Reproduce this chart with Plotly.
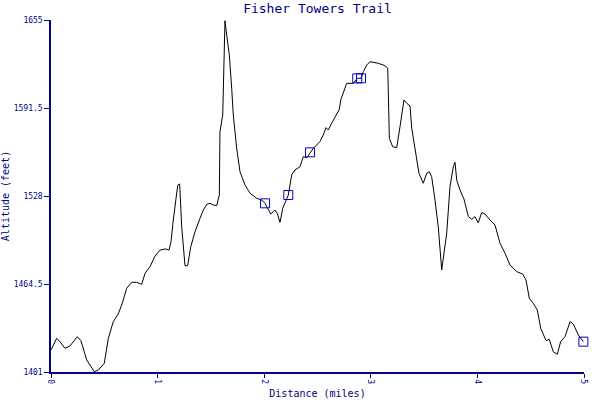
import plotly.graph_objects as go

# Trail profile (distance in miles, altitude in feet)
distance = [0.0, 0.053, 0.084, 0.131, 0.178, 0.247, 0.281, 0.335, 0.406, 0.444,
            0.500, 0.538, 0.584, 0.631, 0.669, 0.710, 0.757, 0.804, 0.851, 0.882,
            0.929, 0.976, 1.023, 1.076, 1.107, 1.126, 1.147, 1.170, 1.189, 1.207,
            1.226, 1.257, 1.282, 1.311, 1.351, 1.398, 1.429, 1.461, 1.492, 1.523,
            1.554, 1.579, 1.585, 1.611, 1.623, 1.632, 1.648, 1.673, 1.695, 1.710,
            1.742, 1.773, 1.820, 1.867, 1.930, 1.977, 2.008, 2.038, 2.061, 2.085,
            2.101, 2.123, 2.148, 2.174, 2.195, 2.226, 2.258, 2.289, 2.336, 2.367,
            2.399, 2.430, 2.461, 2.523, 2.554, 2.580, 2.601, 2.633, 2.664, 2.705,
            2.718, 2.742, 2.774, 2.836, 2.873, 2.908, 2.930, 2.962, 2.992, 3.070,
            3.133, 3.159, 3.164, 3.174, 3.205, 3.243, 3.274, 3.311, 3.337, 3.368,
            3.384, 3.415, 3.452, 3.492, 3.524, 3.549, 3.571, 3.602, 3.633, 3.665,
            3.712, 3.743, 3.774, 3.790, 3.806, 3.837, 3.874, 3.915, 3.947, 3.977,
            4.008, 4.040, 4.071, 4.118, 4.165, 4.212, 4.259, 4.306, 4.369, 4.425,
            4.456, 4.487, 4.524, 4.562, 4.594, 4.644, 4.674, 4.712, 4.750, 4.781,
            4.822, 4.869, 4.900, 4.947, 4.994]
altitude = [1416.9, 1425.3, 1422.9, 1418.1, 1419.8, 1426.5, 1423.6, 1409.7, 1401.2, 1402.4,
            1407.3, 1425.3, 1437.3, 1442.9, 1450.6, 1461.4, 1465.7, 1465.7, 1464.3, 1472.2,
            1477.0, 1484.7, 1489.0, 1489.8, 1489.0, 1495.0, 1510.7, 1522.7, 1535.9, 1536.7,
            1505.8, 1477.7, 1477.7, 1491.4, 1502.2, 1511.9, 1517.9, 1522.0, 1522.7, 1521.5,
            1521.0, 1528.7, 1574.4, 1586.5, 1634.6, 1654.5, 1644.2, 1629.7, 1605.7, 1586.5,
            1562.4, 1545.5, 1535.9, 1530.0, 1526.3, 1525.1, 1522.7, 1517.9, 1515.0, 1516.7,
            1517.9, 1515.5, 1509.0, 1519.1, 1522.7, 1528.7, 1543.2, 1546.8, 1549.1, 1556.4,
            1555.6, 1559.5, 1562.4, 1567.3, 1572.0, 1577.3, 1575.6, 1580.5, 1585.2, 1590.6,
            1597.3, 1602.1, 1609.3, 1609.3, 1612.9, 1612.9, 1617.7, 1622.5, 1624.9, 1623.8,
            1622.0, 1620.2, 1594.9, 1569.6, 1563.6, 1562.9, 1578.0, 1597.3, 1594.9, 1593.0,
            1576.9, 1561.2, 1544.4, 1537.2, 1544.4, 1545.5, 1541.9, 1525.1, 1505.8, 1474.6,
            1501.1, 1534.7, 1549.1, 1552.3, 1539.5, 1532.3, 1525.8, 1513.1, 1511.2, 1513.1,
            1508.7, 1516.0, 1515.0, 1510.7, 1507.1, 1493.9, 1486.7, 1478.2, 1473.4, 1471.7,
            1467.4, 1454.2, 1450.6, 1445.7, 1432.5, 1423.6, 1424.6, 1415.6, 1413.8, 1422.9,
            1426.5, 1437.3, 1435.6, 1427.7, 1422.9]

# Waypoints
wp_distance = [2.008, 2.226, 2.430, 2.873, 2.908, 4.994]
wp_altitude = [1522.7, 1528.7, 1559.5, 1612.9, 1612.9, 1422.9]

y_ticks = [1401, 1464.5, 1528, 1591.5, 1655]
y_tick_text = ["1401", "1464.5", "1528", "1591.5", "1655"]
x_ticks = [0, 1, 2, 3, 4, 5]
x_tick_text = ["0", "1", "2", "3", "4", "5"]

navy = "#000080"
mono = "DejaVu Sans Mono, monospace"

fig = go.Figure()
fig.add_trace(go.Scatter(x=distance, y=altitude, mode="lines",
                         line=dict(color="black", width=1), hoverinfo="skip"))
fig.add_trace(go.Scatter(x=wp_distance, y=wp_altitude, mode="markers", cliponaxis=False,
                         marker=dict(symbol="square-open", size=9,
                                     color="#0000CC", line=dict(width=1, color="#0000CC"))))

fig.update_layout(
    width=600, height=400,
    margin=dict(l=51, r=16, t=20, b=28, autoexpand=False),
    paper_bgcolor="white", plot_bgcolor="white",
    showlegend=False,
    title=dict(text="Fisher Towers Trail", xref="paper", x=0.5, xanchor="center",
               yref="container", y=0.98, yanchor="middle",
               font=dict(family=mono, size=13, color=navy)),
    xaxis=dict(range=[0, 5], tickvals=x_ticks, ticktext=x_tick_text,
               tickangle=90, ticks="outside", ticklen=4, tickcolor=navy,
               showline=True, linecolor=navy, linewidth=1.5,
               showgrid=False, zeroline=False, automargin=False,
               tickfont=dict(family=mono, size=8, color=navy),
               title=dict(text="Distance (miles)", standoff=7,
                          font=dict(family=mono, size=10, color=navy))),
    yaxis=dict(range=[1401, 1655], tickvals=y_ticks, ticktext=y_tick_text,
               ticks="outside", ticklen=5, tickcolor=navy,
               showline=True, linecolor=navy, linewidth=1.5,
               showgrid=False, zeroline=False, automargin=False,
               tickfont=dict(family=mono, size=8, color=navy),
               title=dict(text="Altitude (feet)", standoff=4,
                          font=dict(family=mono, size=10, color=navy))),
)

fig.write_html("out.html", config={"displayModeBar": False},
               post_script="document.body.style.margin='0';document.body.style.overflow='hidden';")
